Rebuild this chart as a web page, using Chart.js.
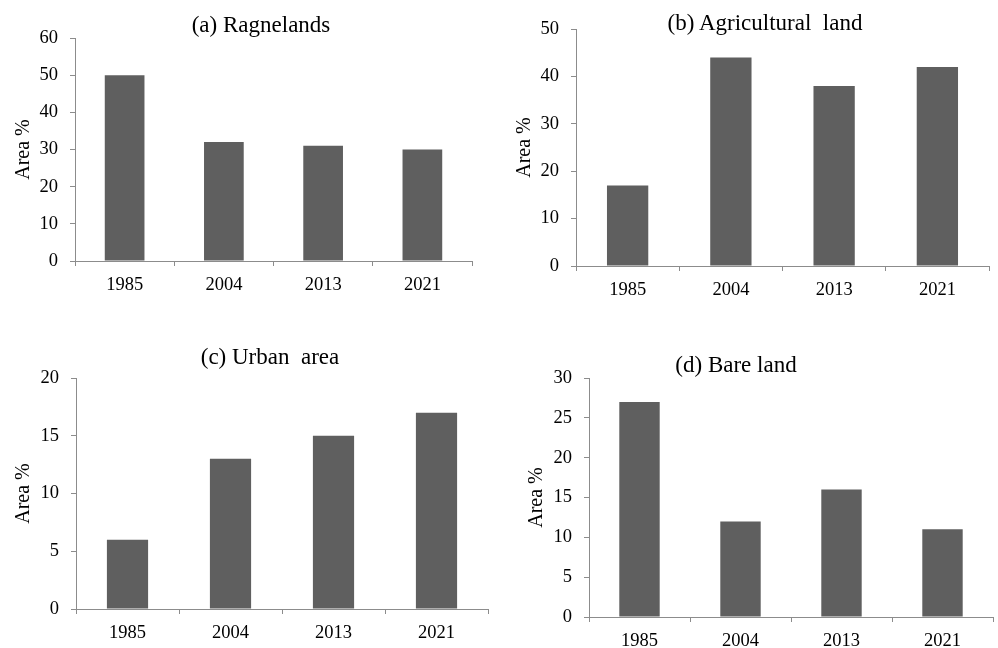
<!DOCTYPE html>
<html>
<head>
<meta charset="utf-8">
<script src="https://cdn.jsdelivr.net/npm/chart.js@4"></script>
<style>
  html, body { margin: 0; padding: 0; background: #fff; overflow: hidden; }
  body { width: 998px; height: 648px; position: relative; }
  canvas { position: absolute; }
  .ttl {
    position: absolute;
    font-family: "Liberation Serif", "Times New Roman", serif;
    font-size: 23px;
    line-height: 24px;
    white-space: pre;
    color: #000;
    transform: translateX(-50%);
  }
</style>
</head>
<body>
<canvas id="ca"></canvas>
<canvas id="cb"></canvas>
<canvas id="cc"></canvas>
<canvas id="cd"></canvas>
<div class="ttl" id="ta"></div>
<div class="ttl" id="tb"></div>
<div class="ttl" id="tc"></div>
<div class="ttl" id="td"></div>
<script>
const years = ["1985", "2004", "2013", "2021"];
const rangelands = [50, 32, 31, 30];
const agricultural = [17, 44, 38, 42];
const urban = [6, 13, 15, 17];
const bare = [27, 12, 16, 11];
const titles = ["(a) Ragnelands", "(b) Agricultural  land", "(c) Urban  area", "(d) Bare land"];

const axisColor = "#8c8c8c";
const barColor = "#5f5f5f";
const serif = "'Liberation Serif', 'Times New Roman', serif";

// canvas box, chart area edges (page px), y axis range, title placement
const panels = [
  { id: "ca", tid: "ta", data: rangelands, max: 60, step: 10,
    box: [0, 0, 490, 305], L: 75, T: 38, R: 472, B: 261, yTitlePad: 12, tx: 261, ty: 13 },
  { id: "cb", tid: "tb", data: agricultural, max: 50, step: 10,
    box: [500, 0, 498, 305], L: 576, T: 29, R: 989, B: 266, yTitlePad: 13, tx: 765, ty: 11 },
  { id: "cc", tid: "tc", data: urban, max: 20, step: 5,
    box: [0, 318, 490, 330], L: 76, T: 378, R: 488, B: 609, yTitlePad: 12, tx: 270, ty: 345 },
  { id: "cd", tid: "td", data: bare, max: 30, step: 5,
    box: [500, 318, 498, 330], L: 589, T: 378, R: 993, B: 617, yTitlePad: 25, tx: 736, ty: 353 },
];

panels.forEach((p, i) => {
  const [cx, cy, cw, ch] = p.box;
  const cv = document.getElementById(p.id);
  cv.style.left = cx + "px";
  cv.style.top = cy + "px";
  cv.style.width = cw + "px";
  cv.style.height = ch + "px";

  const t = document.getElementById(p.tid);
  t.textContent = titles[i];
  t.style.left = p.tx + "px";
  t.style.top = p.ty + "px";

  new Chart(cv.getContext("2d"), {
    type: "bar",
    data: {
      labels: years,
      datasets: [
        {
          data: p.data,
          backgroundColor: barColor,
          borderWidth: 0,
          barPercentage: 0.4,
          categoryPercentage: 1,
        },
      ],
    },
    options: {
      responsive: false,
      animation: false,
      devicePixelRatio: 1,
      layout: {
        padding: { left: 0, top: p.T - cy, right: cx + cw - p.R, bottom: 0 },
      },
      plugins: {
        legend: { display: false },
        tooltip: { enabled: false },
        title: { display: false },
      },
      scales: {
        x: {
          afterFit: (s) => { s.height = cy + ch - p.B; },
          grid: { offset: true, drawOnChartArea: false, tickLength: 5, color: axisColor },
          border: { color: axisColor, width: 1 },
          ticks: { color: "#000", padding: 8, font: { family: serif, size: 18.5 } },
        },
        y: {
          min: 0,
          max: p.max,
          afterFit: (s) => { s.width = p.L - cx; },
          grid: { drawOnChartArea: false, tickLength: 5, color: axisColor },
          border: { color: axisColor, width: 1 },
          ticks: { stepSize: p.step, color: "#000", padding: 12, font: { family: serif, size: 18.5 } },
          title: {
            display: true,
            text: "Area %",
            color: "#000",
            padding: { top: p.yTitlePad, bottom: 0 },
            font: { family: serif, size: 20 },
          },
        },
      },
    },
  });
});
</script>
</body>
</html>
